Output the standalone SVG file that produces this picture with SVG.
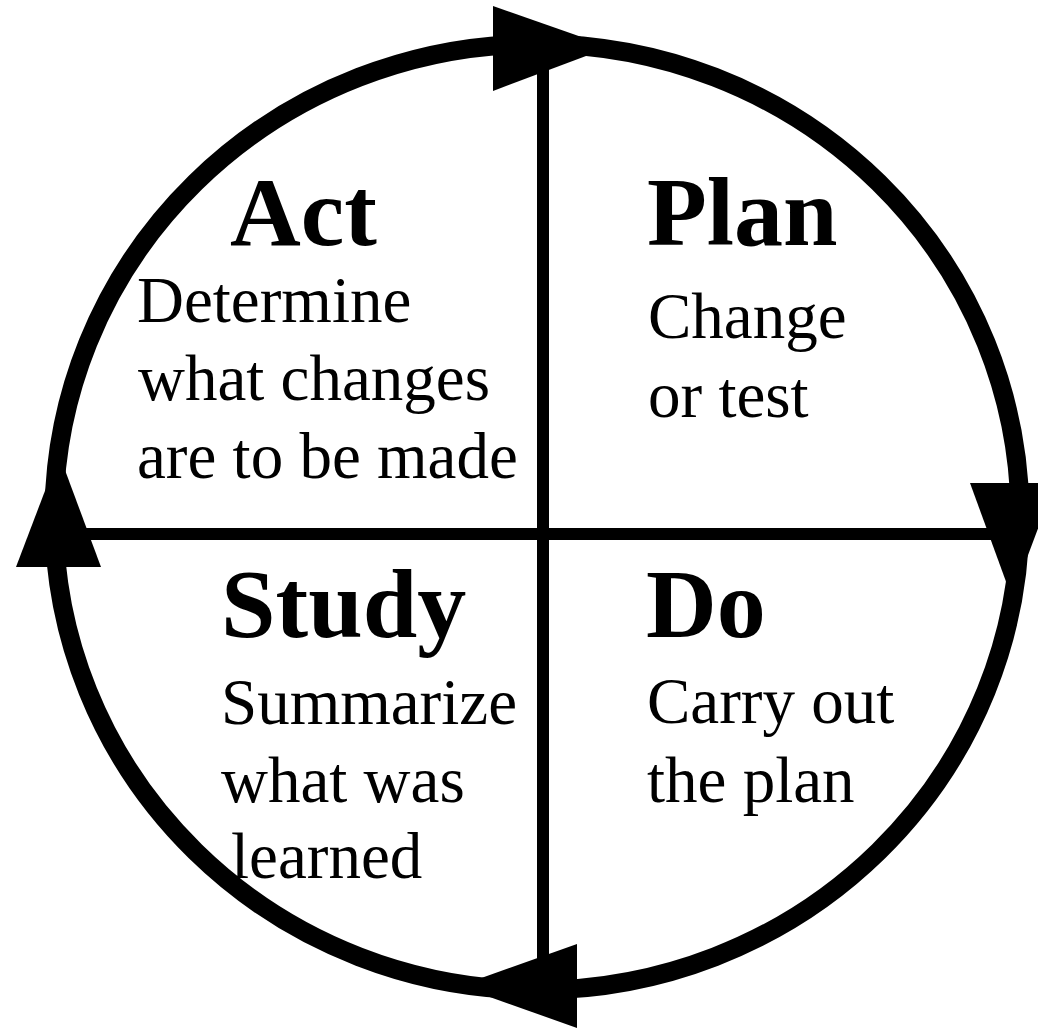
<svg xmlns="http://www.w3.org/2000/svg" width="1038" height="1029" viewBox="0 0 1038 1029">
  <style>
    .ring { fill: none; stroke: #000; stroke-width: 19; }
    .axis { stroke: #000; stroke-width: 12; }
    .head { fill: #000; stroke: none; }
    .title { font-family: "Liberation Serif", "Times New Roman", serif; font-weight: bold; font-size: 98px; fill: #000; }
    .body { font-family: "Liberation Serif", "Times New Roman", serif; font-size: 65px; fill: #000; }
  </style>
  <rect width="1038" height="1029" fill="#fff"/>

  <!-- cycle ring, dividing axes and direction arrows -->
  <g id="connectors">
    <ellipse class="ring" cx="537" cy="517" rx="483" ry="473"/>
    <line class="axis" x1="543" y1="50" x2="543" y2="985"/>
    <line class="axis" x1="56" y1="534" x2="1016" y2="534"/>
    <polygon class="head" points="493,6 493,91 610,47"/>
    <polygon class="head" points="970,483 1055,483 1012,598"/>
    <polygon class="head" points="577,944 577,1028 459,986"/>
    <polygon class="head" points="16,567 101,567 59,454"/>
  </g>

  <g id="act">
    <text class="title" x="230" y="245">Act</text>
    <text class="body" x="137" y="322">Determine</text>
    <text class="body" x="138" y="400">what changes</text>
    <text class="body" x="137" y="478">are to be made</text>
  </g>

  <g id="plan">
    <text class="title" x="647" y="245">Plan</text>
    <text class="body" x="648" y="338">Change</text>
    <text class="body" x="648" y="417">or test</text>
  </g>

  <g id="study">
    <text class="title" x="221" y="637">Study</text>
    <text class="body" x="221" y="724">Summarize</text>
    <text class="body" x="221" y="802">what was</text>
    <text class="body" x="231" y="878">learned</text>
  </g>

  <g id="do">
    <text class="title" x="646" y="637">Do</text>
    <text class="body" x="647" y="723">Carry out</text>
    <text class="body" x="647" y="802">the plan</text>
  </g>
</svg>
